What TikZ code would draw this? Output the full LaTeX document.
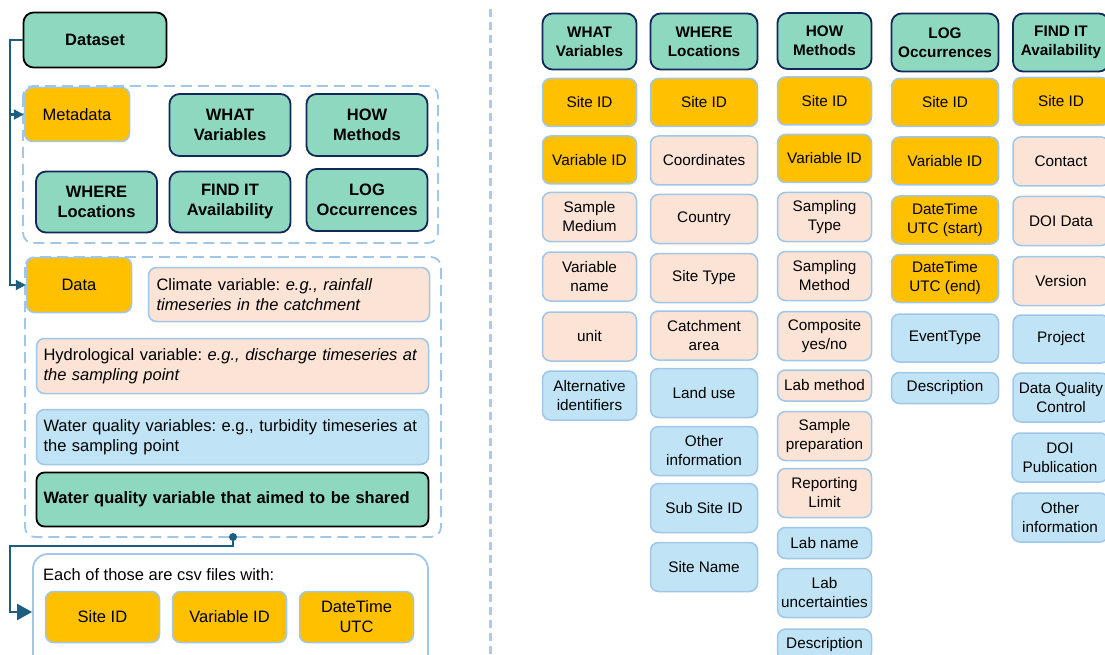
\documentclass[tikz,border=0pt]{standalone}
\usepackage{fontspec}
\setmainfont{Liberation Sans}
\usetikzlibrary{arrows.meta}
\frenchspacing

\definecolor{mint}{RGB}{142,216,191}
\definecolor{navy}{RGB}{18,40,90}
\definecolor{amber}{RGB}{255,192,0}
\definecolor{peach}{RGB}{251,227,214}
\definecolor{sky}{RGB}{192,228,245}
\definecolor{paleblue}{RGB}{160,198,232}
\definecolor{linkblue}{RGB}{28,94,128}
\definecolor{sepblue}{RGB}{180,199,231}

\tikzset{
  cell/.style={rectangle, rounded corners=8pt, line width=1.5pt, inner sep=0pt,
    align=center, font=\fontsize{15.3}{19}\selectfont},
  head/.style={cell, fill=mint, draw=navy, line width=1.8pt, rounded corners=10pt,
    font=\bfseries\fontsize{15.3}{19}\selectfont},
  idcell/.style={cell, fill=amber, draw=paleblue},
  infocell/.style={cell, fill=peach, draw=paleblue},
  morecell/.style={cell, fill=sky, draw=paleblue},
  big/.style={font=\fontsize{16.5}{20}\selectfont},
  bighead/.style={head, font=\bfseries\fontsize{16.5}{20}\selectfont},
  wide/.style={align=left},
  dashframe/.style={draw=paleblue, dash pattern=on 11pt off 6pt, line width=1.8pt,
    rounded corners=10pt},
  divider/.style={draw=sepblue, dash pattern=on 8pt off 5pt, line width=3pt},
  link/.style={draw=linkblue, line width=2.2pt},
  colA/.style={minimum width=94},
  colB/.style={minimum width=107},
  colC/.style={minimum width=96},
  tall/.style={minimum height=49},
  flat/.style={minimum height=31},
}

\begin{document}
\begin{tikzpicture}[>={Stealth[length=10pt, width=10pt, inset=0pt]}, x=1pt, y=-1pt]
    \useasboundingbox (0,0) rectangle (1105,655);

    % Левая часть: набор данных
    \node[bighead, draw=black, minimum width=143, minimum height=55] (dataset)
      at (95,40) {Dataset};

    % Метаданные
    \draw[dashframe] (23,86) rectangle (438,243);
    \node[idcell, big, minimum width=105, minimum height=54] (meta) at (77,114.5) {Metadata};
    \node[bighead, minimum width=121, minimum height=62] (mwhat) at (230,125) {WHAT\\Variables};
    \node[bighead, minimum width=121, minimum height=62] (mhow) at (367,125) {HOW\\Methods};
    \node[bighead, minimum width=121, minimum height=61] (mwhere) at (96.5,202) {WHERE\\Locations};
    \node[bighead, minimum width=121, minimum height=61] (mfind) at (230,202) {FIND IT\\Availability};
    \node[bighead, minimum width=121, minimum height=62] (mlog) at (367,200) {LOG\\Occurrences};

    % Данные
    \draw[dashframe] (25,257) rectangle (441,537);
    \node[idcell, big, minimum width=105, minimum height=55] (data) at (79,285) {Data};
    \node[infocell, big, wide, text width=265, minimum width=281, minimum height=54] (climate)
      at (289,294.5) {Climate variable: \textit{e.g., rainfall}\\\textit{timeseries in the catchment}};
    \node[infocell, big, wide, text width=378, minimum width=392, minimum height=55] (hydro)
      at (232.5,366) {Hydrological variable: \textit{e.g., discharge timeseries at}\\\textit{the sampling point}};
    \node[morecell, big, wide, text width=378, minimum width=392, minimum height=55] (wqvars)
      at (232.5,437) {Water quality variables: e.g., turbidity timeseries at\\the sampling point};
    \node[bighead, draw=black, wide, rounded corners=8pt, text width=378, minimum width=392,
      minimum height=54] (shared) at (232.5,499.5) {Water quality variable that aimed to be shared};

    % Файлы csv
    \node[draw=paleblue, line width=1.8pt, rounded corners=15pt, minimum width=395,
      minimum height=116] (csv) at (230.5,612) {};
    \node[big, anchor=west, inner sep=0pt] (csvnote) at (43,575) {Each of those are csv files with:};
    \node[idcell, big, minimum width=114, minimum height=51] (csite) at (102.5,617) {Site ID};
    \node[idcell, big, minimum width=114, minimum height=51] (cvar) at (229.5,617) {Variable ID};
    \node[idcell, big, minimum width=114, minimum height=51] (ctime) at (356.5,617) {DateTime\\UTC};

    % Стрелки
    \coordinate (spine) at (10,40);
    \draw[link,->] (dataset.west) -- (spine) |- (data.west);
    \draw[link,->] (spine |- meta.west) -- (meta.west);
    \coordinate (tap) at (233,537);
    \coordinate (turn) at (10,546);
    \fill[linkblue] (tap) circle (4pt);
    \draw[link,-{Stealth[length=15pt, width=16pt, inset=0pt]}] (tap) |- (turn) |- (csv.west);

    % Разделитель
    \draw[divider] (490,9) -- (490,655);

    % WHAT
    \node[head, colA, minimum height=56] (what) at (589.5,41.5) {WHAT\\Variables};
    \node[idcell, colA, minimum height=48] (w1) at (589.5,102.5) {Site ID};
    \node[idcell, colA, minimum height=48] (w2) at (589.5,160) {Variable ID};
    \node[infocell, colA, tall] (w3) at (589.5,217) {Sample\\Medium};
    \node[infocell, colA, tall] (w4) at (589.5,276.5) {Variable\\name};
    \node[infocell, colA, tall] (w5) at (589.5,336.5) {unit};
    \node[morecell, colA, tall] (w6) at (589.5,395.5) {Alternative\\identifiers};

    % WHERE
    \node[head, colB, minimum height=56] (where) at (704,41.5) {WHERE\\Locations};
    \node[idcell, colB, minimum height=48] (r1) at (704,102.5) {Site ID};
    \node[infocell, colB, tall] (r2) at (704,160.5) {Coordinates};
    \node[infocell, colB, tall] (r3) at (704,219) {Country};
    \node[infocell, colB, tall] (r4) at (704,278) {Site Type};
    \node[infocell, colB, tall] (r5) at (704,335.5) {Catchment\\area};
    \node[morecell, colB, tall] (r6) at (704,393) {Land use};
    \node[morecell, colB, tall] (r7) at (704,451) {Other\\information};
    \node[morecell, colB, tall] (r8) at (704,508) {Sub Site ID};
    \node[morecell, colB, tall] (r9) at (704,567) {Site Name};

    % HOW
    \node[head, colA, minimum height=56] (how) at (824.5,41) {HOW\\Methods};
    \node[idcell, colA, minimum height=48] (h1) at (824.5,101) {Site ID};
    \node[idcell, colA, minimum height=48] (h2) at (824.5,158.5) {Variable ID};
    \node[infocell, colA, tall] (h3) at (824.5,217) {Sampling\\Type};
    \node[infocell, colA, tall] (h4) at (824.5,276) {Sampling\\Method};
    \node[infocell, colA, tall] (h5) at (824.5,336) {Composite\\yes/no};
    \node[infocell, colA, flat] (h6) at (824.5,385.5) {Lab method};
    \node[infocell, colA, tall] (h7) at (824.5,436) {Sample\\preparation};
    \node[infocell, colA, tall] (h8) at (824.5,493) {Reporting\\Limit};
    \node[morecell, colA, flat] (h9) at (824.5,543) {Lab name};
    \node[morecell, colA, tall] (h10) at (824.5,593) {Lab\\uncertainties};
    \node[morecell, colA, flat] (h11) at (824.5,644.5) {Description};

    % LOG
    \node[head, colB, minimum height=58] (log) at (945,42.5) {LOG\\Occurrences};
    \node[idcell, colB, minimum height=48] (l1) at (945,102.5) {Site ID};
    \node[idcell, colB, minimum height=48] (l2) at (945,161) {Variable ID};
    \node[idcell, colB, minimum height=48] (l3) at (945,220) {DateTime\\UTC (start)};
    \node[idcell, colB, minimum height=48] (l4) at (945,278.5) {DateTime\\UTC (end)};
    \node[morecell, colB, minimum height=48] (l5) at (945,338) {EventType};
    \node[morecell, colB, flat] (l6) at (945,388) {Description};

    % FIND IT
    \node[head, colC, minimum height=58] (find) at (1061,42.5) {FIND IT\\Availability};
    \node[idcell, colC, minimum height=48] (f1) at (1061,101.5) {Site ID};
    \node[infocell, colC, tall] (f2) at (1061,161.5) {Contact};
    \node[infocell, colC, tall] (f3) at (1061,221) {DOI Data};
    \node[infocell, colC, tall] (f4) at (1061,281) {Version};
    \node[morecell, colC, minimum height=48] (f5) at (1061,339) {Project};
    \node[morecell, colC, tall] (f6) at (1061,397.5) {Data Quality\\Control};
    \node[morecell, colC, tall] (f7) at (1060,457.5) {DOI\\Publication};
    \node[morecell, colC, tall] (f8) at (1060,517.5) {Other\\information};
\end{tikzpicture}
\end{document}
